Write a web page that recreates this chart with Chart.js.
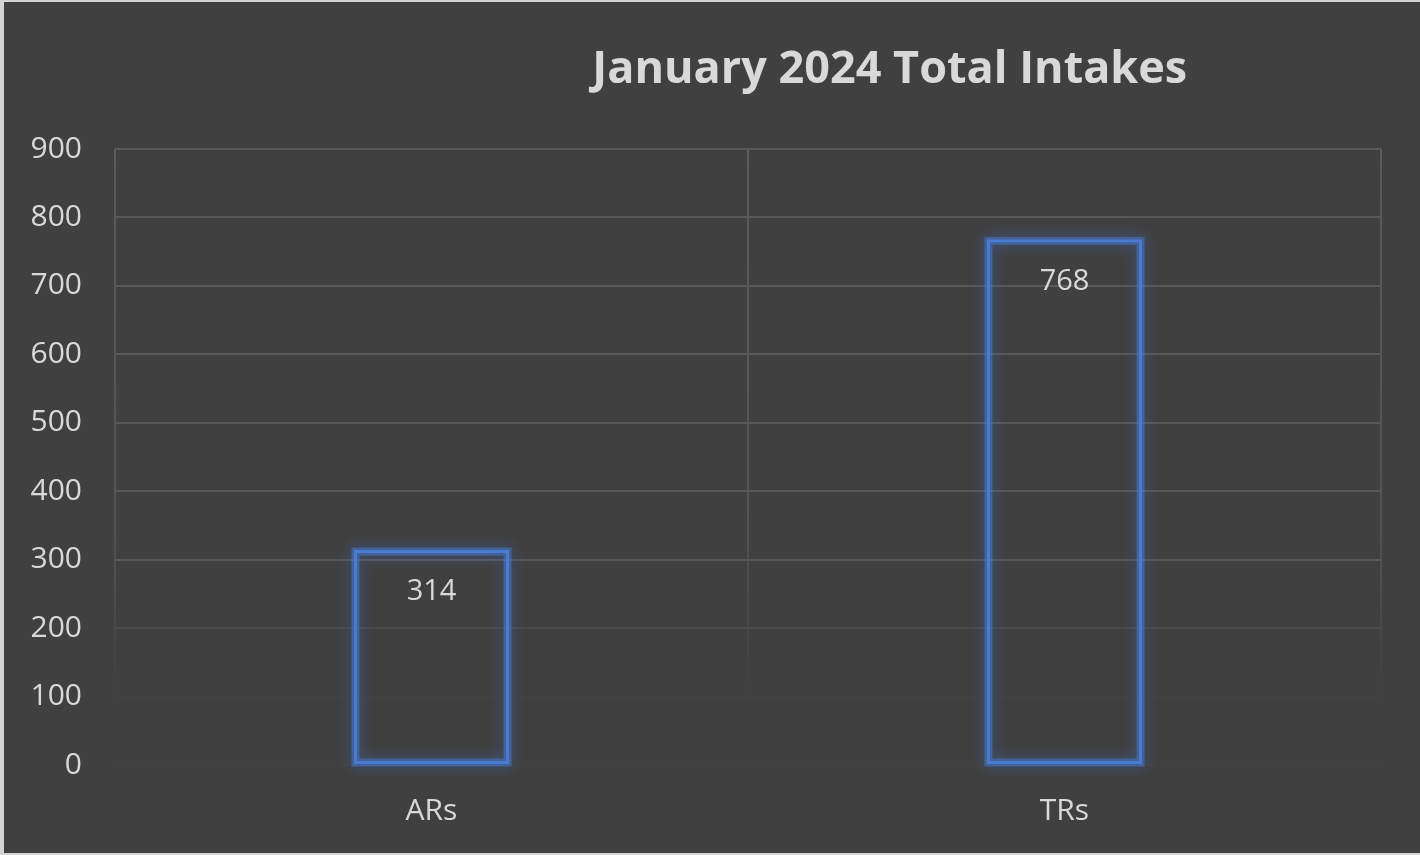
<!DOCTYPE html>
<html>
<head>
<meta charset="utf-8">
<script src="https://cdn.jsdelivr.net/npm/chart.js@4/dist/chart.umd.min.js"></script>
<style>
    html, body { margin: 0; padding: 0; background: #d4d4d4; }
    #wrap { position: absolute; left: 4px; top: 2px; width: 1416px; height: 851px; background: #404040; }
</style>
</head>
<body>
<div id="wrap"><canvas id="myChart" width="1416" height="851"></canvas></div>
<script>
const titleText = "January 2024 Total Intakes";
const categories = ["ARs", "TRs"];
const intakes = [314, 768];
const yTicks = [0, 100, 200, 300, 400, 500, 600, 700, 800, 900];

const textColor = "#d9d9d9";
const barBlue = "#4a7bd3";
const fontFamily = "'Open Sans', 'Noto Sans', sans-serif";

// fading vertical grid (the original fades toward the bottom)
function vGrid(context) {
    const chart = context.chart;
    const area = chart.chartArea;
    if (!area) return "#595959";
    const g = chart.ctx.createLinearGradient(0, area.top, 0, area.bottom);
    g.addColorStop(0, "#5c5c5c");
    g.addColorStop(0.6, "#545454");
    g.addColorStop(0.88, "#404040");
    g.addColorStop(1, "#404040");
    return g;
}

function hGrid(context) {
    const v = context.tick ? context.tick.value : 0;
    if (v >= 300) return "#595959";
    if (v == 200) return "#4b4b4b";
    return "#424242";
}

const glowPlugin = {
    id: "glow",
    beforeDatasetsDraw(chart) {
        const ctx = chart.ctx;
        const meta = chart.getDatasetMeta(0);
        ctx.save();
        ctx.strokeStyle = "rgba(74,123,211,0.5)";
        ctx.lineWidth = 8;
        ctx.shadowColor = "rgba(60,110,210,0.9)";
        ctx.shadowBlur = 14;
        meta.data.forEach(function (bar) {
            const p = bar.getProps(["x", "y", "base", "width"], true);
            ctx.strokeRect(p.x - p.width / 2 + 1.5, p.y + 1.5, p.width - 3, p.base - p.y - 3);
        });
        ctx.restore();
    },
};

const labelPlugin = {
    id: "valueLabels",
    afterDatasetsDraw(chart) {
        const ctx = chart.ctx;
        const meta = chart.getDatasetMeta(0);
        ctx.save();
        ctx.fillStyle = textColor;
        ctx.font = "29px " + fontFamily;
        ctx.textAlign = "center";
        ctx.textBaseline = "middle";
        meta.data.forEach(function (bar, i) {
            ctx.fillText(intakes[i], bar.x, bar.y + 42);
        });
        ctx.restore();
    },
};

const titlePlugin = {
    id: "offsetTitle",
    afterDraw(chart) {
        const ctx = chart.ctx;
        const area = chart.chartArea;
        ctx.save();
        ctx.fillStyle = textColor;
        ctx.font = "bold 45px " + fontFamily;
        ctx.textAlign = "center";
        ctx.textBaseline = "middle";
        ctx.fillText(titleText, area.left + (area.right - area.left) * 0.612, 68);
        ctx.restore();
    },
};

const ctx = document.getElementById("myChart").getContext("2d");
const myChart = new Chart(ctx, {
    type: "bar",
    data: {
        labels: categories,
        datasets: [
            {
                label: "Total Intakes",
                data: intakes,
                backgroundColor: "rgba(0,0,0,0)",
                borderColor: barBlue,
                borderWidth: 3,
                borderSkipped: false,
                categoryPercentage: 1,
                barPercentage: 0.245,
            },
        ],
    },
    options: {
        responsive: false,
        animation: false,
        layout: { padding: { top: 147, right: 39, left: 0, bottom: 0 } },
        plugins: {
            legend: { display: false },
            tooltip: { enabled: false },
            title: { display: false },
        },
        scales: {
            x: {
                offset: true,
                grid: { color: vGrid, lineWidth: 2, drawTicks: false, offset: true },
                border: { display: false },
                ticks: {
                    color: textColor,
                    padding: 28,
                    font: { family: fontFamily, size: 30 },
                },
                afterFit: function (scale) { scale.height = 88; },
            },
            y: {
                min: 0,
                max: 900,
                afterBuildTicks: function (scale) {
                    scale.ticks = yTicks.map(function (v) { return { value: v }; });
                },
                grid: { color: hGrid, lineWidth: 2, drawTicks: false },
                border: { display: false },
                ticks: {
                    color: textColor,
                    padding: 33,
                    font: { family: fontFamily, size: 30 },
                },
                afterFit: function (scale) { scale.width = 111; },
            },
        },
    },
    plugins: [glowPlugin, labelPlugin, titlePlugin],
});
</script>
</body>
</html>
